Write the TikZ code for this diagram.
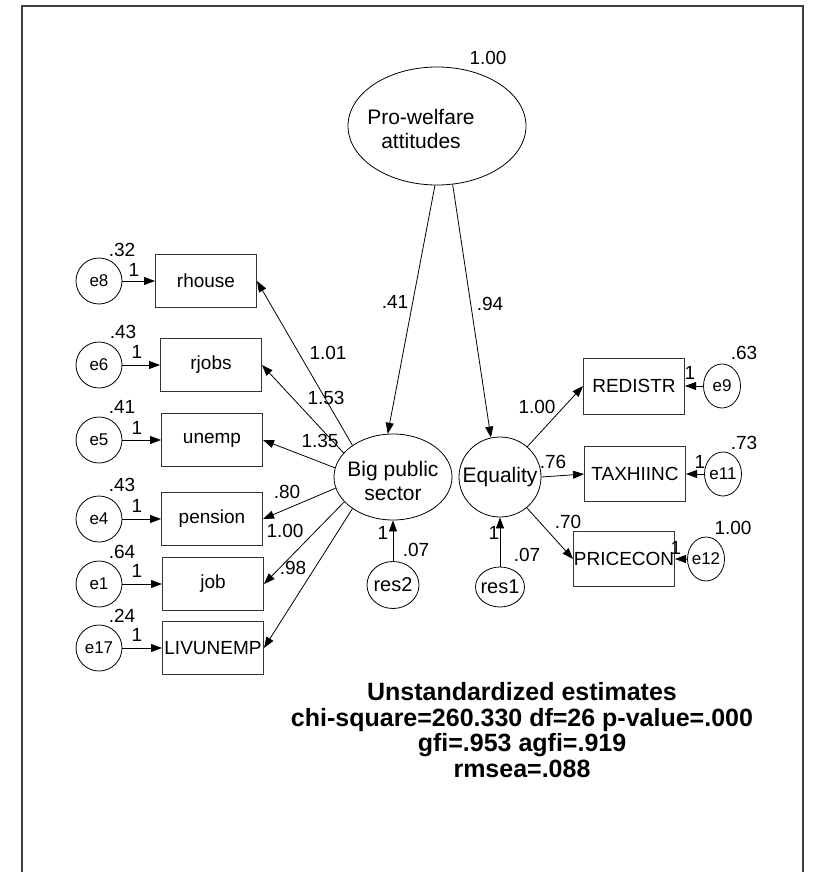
\documentclass[tikz,border=0pt]{standalone}
\usepackage{fontspec}
\setmainfont{Liberation Sans}
\usetikzlibrary{shapes.geometric,arrows.meta}

\begin{document}
\begin{tikzpicture}[x=1pt,y=-1pt,
  every node/.style={font=\fontsize{19}{21}\selectfont},
  lat/.style={align=center,font=\fontsize{21}{24}\selectfont},
  latent/.style={draw,ellipse,inner sep=0pt,line width=0.8pt},
  errterm/.style={draw,ellipse,inner sep=0pt,line width=0.8pt,minimum width=46pt,minimum height=46pt,
    label={[font=\fontsize{17}{18}\selectfont]center:#1}},
  obsbox/.style={draw=black!80,rectangle,inner sep=0pt,line width=1pt,minimum width=101pt,minimum height=53pt},
  arr/.style={-{Triangle[length=11pt,width=8pt]},line width=0.8pt}
]
\useasboundingbox (0,0) rectangle (822,872);
\draw[line width=1.5pt,black!75] (22,872) -- (22,6) -- (803,6) -- (803,872);

% latent variables
\node[latent,minimum width=178pt,minimum height=118pt,
  label={[lat,xshift=-16pt,yshift=-3pt]center:{Pro-welfare\\attitudes}}] (pro) at (437,126) {};
\node[latent,minimum width=118pt,minimum height=86pt,
  label={[lat,yshift=-4pt]center:{Big public\\sector}}] (bps) at (393,477) {};
\node[latent,minimum width=82pt,minimum height=80pt,label={[lat]center:Equality}] (eq) at (500,477) {};
\node[latent,minimum width=52pt,minimum height=47pt,
  label={[font=\fontsize{20}{21}\selectfont]center:res2}] (res2) at (393,585) {};
\node[latent,minimum width=49pt,minimum height=40pt,
  label={[font=\fontsize{20}{21}\selectfont]center:res1}] (res1) at (500,587) {};

% indicators on the left
\foreach \v/\e/\bx/\y in {rhouse/e8/206/281,rjobs/e6/211/365,unemp/e5/212/440,
    pension/e4/212/519,job/e1/213/584,LIVUNEMP/e17/213/648}{
  \node[errterm=\e] (\e) at (99,\y) {};
  \node[obsbox] (\v) at (\bx,\y) {\v};
  \draw[arr] (\e) -- (\v);
}

% indicators on the right
\node[obsbox,minimum height=56pt] (REDISTR) at (634,386) {REDISTR};
\node[obsbox,minimum height=55pt] (TAXHIINC) at (635,474) {TAXHIINC};
\node[obsbox,minimum height=55pt] (PRICECON) at (624,559) {PRICECON};
\node[errterm=e9,minimum width=37pt,minimum height=44pt] (e9) at (722,386) {};
\node[errterm=e11,minimum width=37pt,minimum height=44pt] (e11) at (723,474) {};
\node[errterm=e12,minimum width=37pt,minimum height=44pt] (e12) at (706,559) {};
\draw[arr] (e9) -- (REDISTR);
\draw[arr] (e11) -- (TAXHIINC);
\draw[arr] (e12) -- (PRICECON);

% structural paths
\draw[arr] (pro.268) -- (bps.97);
\draw[arr] (pro.285) -- (eq.103);
\draw[arr] (res2) -- (bps);
\draw[arr] (res1) -- (eq);
\foreach \a/\b in {142/rhouse,154/rjobs,171/unemp,191/pension,207/job,218/LIVUNEMP}
  \draw[arr] (bps.\a) -- (\b.east);
\draw[arr] (eq.48) -- (REDISTR.west);
\draw[arr] (eq.0) -- (TAXHIINC.west);
\draw[arr] (eq.311) -- (PRICECON.west);

% estimates
\foreach \x/\y/\t [count=\i] in {488/58/1.00,395/302/.41,490/304/.94,
    328/353/1.01,326/398/1.53,320/441/1.35,287/492/.80,285/531/1.00,293/568/.98,
    537/407/1.00,553/462/.76,568/522/.70,
    122/250/.32,123/332/.43,122/407/.41,122/485/.43,122/552/.64,122/616/.24,
    134/270/1,137/352/1,137/428/1,137/506/1,137/571/1,137/635/1,
    744/353/.63,690/373/1,744/443/.73,700/462/1,733/528/1.00,676/548/1,
    383/533/1,416/550/.07,494/533/1,527/555/.07}
  \node (n\i) at (\x,\y) {\t};

\node[font=\bfseries\fontsize{25}{25.5}\selectfont,align=center] (fit) at (522,730)
  {Unstandardized estimates\\chi-square=260.330 df=26 p-value=.000\\gfi=.953 agfi=.919\\rmsea=.088};
\end{tikzpicture}
\end{document}
